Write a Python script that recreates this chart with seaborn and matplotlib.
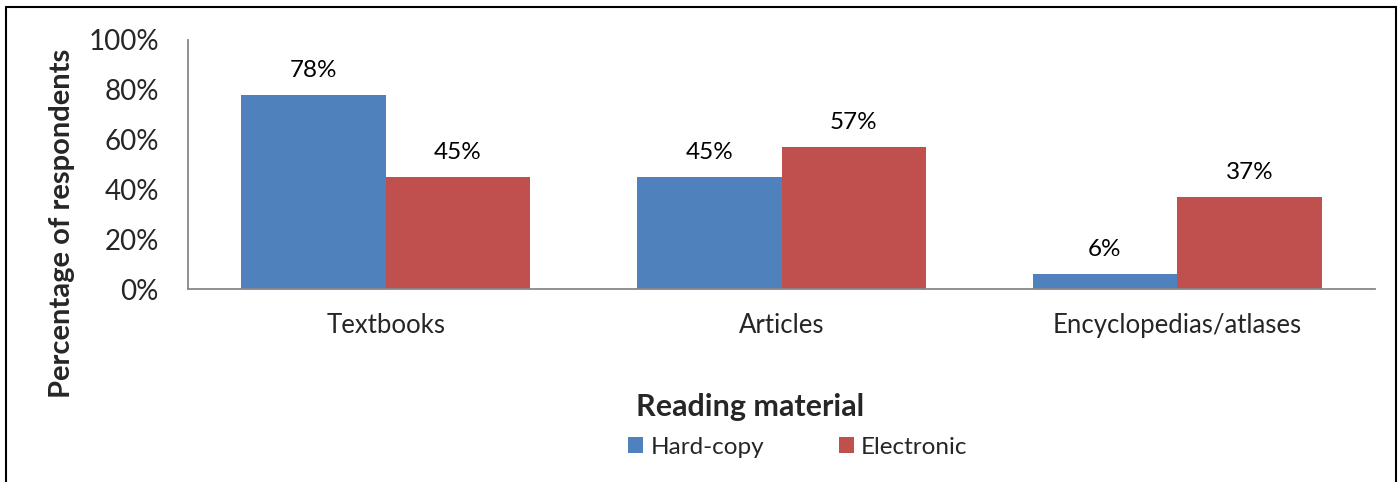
import matplotlib
matplotlib.use("Agg")
import matplotlib.pyplot as plt
from matplotlib.lines import Line2D
from matplotlib.patches import Patch
import seaborn as sns
import pandas as pd

categories = ["Textbooks", "Articles", "Encyclopedias/atlases"]
series_names = ["Hard-copy", "Electronic"]
hard_copy = [78, 45, 6]
electronic = [45, 57, 37]
y_ticks = [0, 20, 40, 60, 80, 100]
colors = ["#4F81BD", "#C0504D"]

rows = []
for c, h, e in zip(categories, hard_copy, electronic):
    rows.append({"cat": c, "series": series_names[0], "val": h})
    rows.append({"cat": c, "series": series_names[1], "val": e})
df = pd.DataFrame(rows)

sns.set_style("white")
plt.rcParams["font.family"] = ["Lato", "DejaVu Sans"]

fig = plt.figure(figsize=(13.99, 4.82), dpi=100)
ax = fig.add_axes([188/1399, 1-289/482, (1375-188)/1399, (289-40)/482])

sns.barplot(data=df, x="cat", y="val", hue="series", order=categories,
            hue_order=series_names, palette=colors, width=0.73, gap=0,
            saturation=1, legend=False, ax=ax, edgecolor="none", linewidth=0)

for cont in ax.containers:
    for bar in cont:
        h = bar.get_height()
        ax.annotate(f"{h:.0f}%", (bar.get_x() + bar.get_width()/2, h),
                    xytext=(0, 10), textcoords="offset points",
                    ha="center", va="bottom", fontsize=17.5, color="black")

ax.set_xlim(-0.5, 2.5)
ax.set_ylim(0, 100)
ax.set_yticks(y_ticks)
ax.set_yticklabels([f"{t}%" for t in y_ticks], fontsize=20)
ax.tick_params(axis="x", labelsize=18.5, length=0, pad=17)
ax.tick_params(axis="y", length=0, pad=21)
for s in ["top", "right"]:
    ax.spines[s].set_visible(False)
for s in ["left", "bottom"]:
    ax.spines[s].set_color("#888888")
    ax.spines[s].set_linewidth(1.3)
ax.set_xlabel("")
ax.set_ylabel("")

fig.text(62/1399, 1-223/482, "Percentage of respondents", rotation=90,
         ha="center", va="center", fontsize=21, fontweight="bold")
fig.text(750/1399, 1-407/482, "Reading material", ha="center", va="center",
         fontsize=22, fontweight="bold")

handles = [Patch(facecolor=colors[0], edgecolor="none"),
           Patch(facecolor=colors[1], edgecolor="none")]
fig.legend(handles, series_names, loc="center", bbox_to_anchor=(798/1399, 1-447/482),
           ncol=2, frameon=False, fontsize=17.5, handlelength=0.6, handleheight=0.6,
           handletextpad=0.3, columnspacing=3.1)

# figure border
lw = 1.5
fig.add_artist(Line2D([6/1399, 6/1399], [0, 1-7/482], transform=fig.transFigure, color="black", lw=lw))
fig.add_artist(Line2D([6/1399, 1396/1399], [1-7/482, 1-7/482], transform=fig.transFigure, color="black", lw=lw))
fig.add_artist(Line2D([1396/1399, 1396/1399], [0, 1-7/482], transform=fig.transFigure, color="black", lw=lw))

fig.savefig("out.png", dpi=100)
